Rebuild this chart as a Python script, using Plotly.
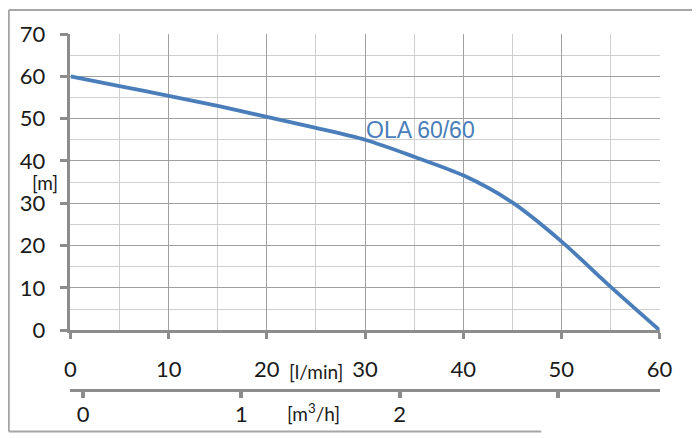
import plotly.graph_objects as go

# pump curve OLA 60/60
flow_lpm = [0, 5, 10, 15, 20, 25, 30, 35, 40, 45, 50, 55, 60]
head_m = [60, 57.7, 55.4, 53.0, 50.4, 47.8, 45.0, 41.0, 36.6, 30.2, 21.0, 10.3, 0]

flow_ticks = [0, 10, 20, 30, 40, 50, 60]
head_ticks = [0, 10, 20, 30, 40, 50, 60, 70]
m3h_ticks = [0, 1, 2, 3]

BLUE = "#4a7ebb"
AXIS = "#8c8c8c"
FONT = "Lato"

# the page body has an 8px margin, so every pixel spot is moved back by it
OFF = 8
# paper area in pixels of the reference picture
PX_L, PX_R, PX_T, PX_B = 52.7, 664.0, 26.0, 390.5


def px_x(p):
    return (p - PX_L) / (PX_R - PX_L)


def px_y(p):
    return (PX_B - p) / (PX_B - PX_T)


fig = go.Figure()
fig.add_trace(go.Scatter(
    x=flow_lpm, y=head_m, mode="lines",
    line=dict(color=BLUE, width=3.8, shape="spline", smoothing=0.8),
    hoverinfo="skip", showlegend=False,
))
# invisible trace so the m3/h axis gets drawn
fig.add_trace(go.Scatter(
    x=[0], y=[0], xaxis="x2", mode="markers", opacity=0,
    hoverinfo="skip", showlegend=False,
))

fig.update_layout(
    width=700, height=438,
    margin=dict(l=PX_L - OFF, r=700 - PX_R + OFF, t=PX_T - OFF, b=438 - PX_B + OFF),
    paper_bgcolor="white", plot_bgcolor="white",
    font=dict(family=FONT, size=22, color="#1a1a1a"),
    xaxis=dict(
        domain=[px_x(64.3), px_x(659.5)], range=[0, 60],
        tickvals=flow_ticks, ticks="outside", ticklen=6, tickwidth=2.5,
        tickcolor=AXIS, showline=True, linecolor=AXIS, linewidth=2.5,
        showgrid=True, gridcolor="#a0a0a0", gridwidth=1.3, zeroline=False,
        minor=dict(dtick=5, showgrid=True, gridcolor="#cfcfcf", gridwidth=1),
        ticklabelstandoff=12,
    ),
    xaxis2=dict(
        overlaying="x", anchor="free", position=0,
        domain=[0, 1], range=[-(65.7 - PX_L) / 164.3, (PX_R - 65.7) / 164.3],
        tickvals=m3h_ticks, ticks="outside", ticklen=6, tickwidth=4,
        tickcolor=AXIS, showline=True, linecolor=AXIS, linewidth=3,
        showgrid=False, zeroline=False, ticklabelstandoff=-2,
    ),
    yaxis=dict(
        domain=[px_y(329.3), 1], range=[0, 70],
        tickvals=head_ticks, ticks="outside", ticklen=8, tickwidth=2.5,
        tickcolor=AXIS, showline=True, linecolor=AXIS, linewidth=2.5,
        showgrid=True, gridcolor="#a0a0a0", gridwidth=1.3, zeroline=False,
        minor=dict(dtick=5, showgrid=True, gridcolor="#cfcfcf", gridwidth=1),
        ticklabelstandoff=10,
    ),
)

fig.add_annotation(x=35.7, y=47.2, xref="x", yref="y", text="OLA 60/60",
                   xanchor="center", yanchor="middle", showarrow=False,
                   font=dict(family="Liberation Sans", size=23, color=BLUE))
labels = [("[m]", 39, 178), ("[l/min]", 312, 372), ("[m<sup>3</sup>/h]", 310, 414)]
for text, lx, ly in labels:
    fig.add_annotation(x=px_x(lx), y=px_y(ly), xref="paper", yref="paper", text=text,
                       xanchor="center", yanchor="middle", showarrow=False,
                       font=dict(size=19))

# outer frame, bottom right corner is blanked out
frame = dict(color="#a6a6a6", width=2)
fig.add_shape(type="line", xref="paper", yref="paper", x0=px_x(2), x1=px_x(694),
              y0=px_y(1.5), y1=px_y(1.5), line=frame)
fig.add_shape(type="line", xref="paper", yref="paper", x0=px_x(2), x1=px_x(2),
              y0=px_y(1.5), y1=px_y(433), line=frame)
fig.add_shape(type="line", xref="paper", yref="paper", x0=px_x(694), x1=px_x(694),
              y0=px_y(1.5), y1=px_y(427), line=frame)
fig.add_shape(type="line", xref="paper", yref="paper", x0=px_x(2), x1=px_x(540),
              y0=px_y(433), y1=px_y(433), line=frame)
fig.add_shape(type="rect", xref="paper", yref="paper", x0=px_x(545), x1=px_x(692),
              y0=px_y(405), y1=px_y(440), fillcolor="white", line=dict(width=0),
              layer="above")

fig.write_html("out.html")
